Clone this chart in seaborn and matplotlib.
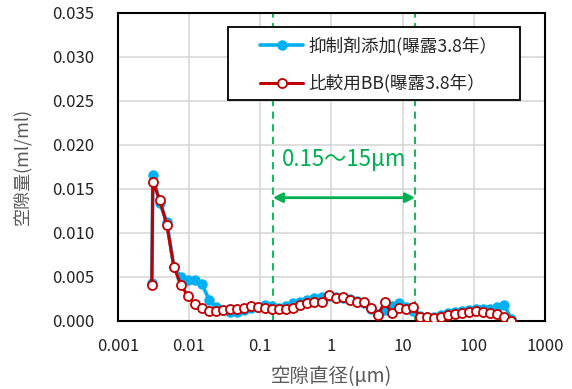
import numpy as np
import pandas as pd
import matplotlib
matplotlib.use("Agg")
import matplotlib.pyplot as plt
from matplotlib.patches import Rectangle
import seaborn as sns

# pore diameter (um)
diameter = [0.0030, 0.0031, 0.00389, 0.00488, 0.00613, 0.00769, 0.00966, 0.01212,
            0.01521, 0.0191, 0.0240, 0.0301, 0.0378, 0.0474, 0.0595, 0.0747,
            0.0937, 0.1177, 0.1477, 0.1854, 0.2326, 0.292, 0.366, 0.460,
            0.577, 0.725, 0.910, 1.142, 1.433, 1.80, 2.26, 2.83,
            3.56, 4.47, 5.60, 7.04, 8.83, 11.08, 13.91, 17.46,
            21.9, 27.5, 34.5, 43.3, 54.4, 68.3, 85.7, 107.5,
            135.0, 169.0, 213.0, 267.0, 335.0]

inhibitor = [0.0043, 0.0166, 0.0134, 0.0112, 0.0061, 0.0050, 0.0047, 0.0047,
             0.0042, 0.0024, 0.0016, 0.0012, 0.0010, 0.0010, 0.0012, 0.0015,
             0.0016, 0.0018, 0.0017, 0.0015, 0.0017, 0.0020, 0.0022, 0.0024,
             0.0026, 0.0027, 0.0028, 0.0027, 0.0026, 0.0025, 0.0023, 0.0020,
             0.0014, 0.0008, 0.0012, 0.0017, 0.0020, 0.0016, 0.0011, 0.0006,
             0.0005, 0.0005, 0.0007, 0.0009, 0.0010, 0.0011, 0.0012, 0.0013,
             0.0013, 0.0014, 0.0016, 0.0018, 0.0002]

reference = [0.0041, 0.0158, 0.0137, 0.0109, 0.0061, 0.0041, 0.0028, 0.0019,
             0.0015, 0.0011, 0.0011, 0.0012, 0.0013, 0.0013, 0.0015, 0.0017,
             0.0016, 0.0015, 0.0014, 0.0013, 0.0014, 0.0015, 0.0018, 0.0020,
             0.0021, 0.0022, 0.0030, 0.0026, 0.0027, 0.0024, 0.0022, 0.0022,
             0.0015, 0.0007, 0.0021, 0.0009, 0.0015, 0.0014, 0.0016, 0.0005,
             0.0004, 0.0003, 0.0005, 0.0007, 0.0008, 0.0009, 0.0010, 0.0011,
             0.0010, 0.0009, 0.0008, 0.0005, 0.0000]

series_names = ["抑制剤添加(曝露3.8年）", "比較用BB(曝露3.8年）"]
x_ticks = [0.001, 0.01, 0.1, 1, 10, 100, 1000]
x_tick_labels = ["0.001", "0.01", "0.1", "1", "10", "100", "1000"]
y_ticks = [0.000, 0.005, 0.010, 0.015, 0.020, 0.025, 0.030, 0.035]
range_lo, range_hi = 0.15, 15
range_label = "0.15～15μm"

sns.set_style("whitegrid")
plt.rcParams['font.family'] = ['Noto Sans CJK JP', 'DejaVu Sans']

fig = plt.figure(figsize=(5.72, 3.89), dpi=100)
ax = fig.add_axes([0.206, 0.175, 0.747, 0.792])

df_a = pd.DataFrame({"d": diameter, "v": inhibitor})
df_b = pd.DataFrame({"d": diameter, "v": reference})

sns.lineplot(x="d", y="v", data=df_a, sort=False, ax=ax, color="#00B0F0",
             lw=2.6, marker="o", markersize=7.5, markeredgewidth=0,
             label=series_names[0], zorder=3)
sns.lineplot(x="d", y="v", data=df_b, sort=False, ax=ax, color="#C00000",
             lw=2.2, marker="o", markersize=6.5, markerfacecolor="white",
             markeredgecolor="#C00000", markeredgewidth=1.3,
             label=series_names[1], zorder=4)

green = "#00B050"
for xv in (range_lo, range_hi):
    ax.axvline(xv, color=green, ls=(0, (4, 3)), lw=1.3, zorder=2)
ax.annotate("", xy=(range_lo, 0.0140), xytext=(range_hi, 0.0140),
            arrowprops=dict(arrowstyle="<|-|>", color=green, lw=2,
                            mutation_scale=14, shrinkA=0, shrinkB=0))
ax.text(np.sqrt(range_lo * range_hi), 0.0183, range_label, color=green,
        fontsize=16, ha="center", va="center")

ax.set_xscale("log")
ax.set_xlim(0.001, 1000)
ax.set_ylim(0, 0.035)
ax.set_xticks(x_ticks)
ax.set_xticklabels(x_tick_labels)
ax.minorticks_off()
ax.set_yticks(y_ticks)
ax.set_yticklabels([f"{v:.3f}" for v in y_ticks])
ax.tick_params(axis="both", labelsize=12, colors="#222222", length=0)
ax.tick_params(axis="y", pad=17)
ax.tick_params(axis="x", pad=12)
ax.grid(True, color="#d4d4d4", lw=1.1)
for s in ax.spines.values():
    s.set_color("black")
    s.set_linewidth(1.5)

ax.set_xlabel("空隙直径(μm)", fontsize=14, color="#595959", labelpad=8)
ax.set_ylabel("空隙量(ml/ml)", fontsize=13, color="#595959", labelpad=15)

# legend: entries placed without frame, box drawn separately
leg = ax.legend(loc="upper left", bbox_to_anchor=(0.333, 0.922), borderaxespad=0,
                borderpad=0, fontsize=12.7, frameon=False, handlelength=2.45,
                handletextpad=0.3, labelspacing=1.05)
ax.add_patch(Rectangle((0.2576, 0.7175), 0.684, 0.237, transform=ax.transAxes,
                       facecolor="white", edgecolor="black", lw=1.3, zorder=5))
leg.set_zorder(6)

fig.savefig("out.png", dpi=100)
